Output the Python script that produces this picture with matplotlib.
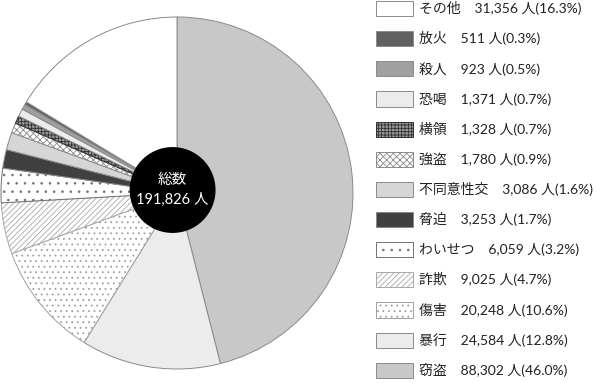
import matplotlib
matplotlib.use("Agg")
import matplotlib.pyplot as plt
from matplotlib.patches import Circle

plt.rcParams['font.family'] = ['Lato', 'Noto Sans CJK JP', 'DejaVu Sans']
plt.rcParams['hatch.linewidth'] = 0.6

# Data (clockwise from top)
categories = ['窃盗', '暴行', '傷害', '詐欺', 'わいせつ', '脅迫', '不同意性交',
              '強盗', '横領', '恐喝', '殺人', '放火', 'その他']
counts = [88302, 24584, 20248, 9025, 6059, 3253, 3086,
          1780, 1328, 1371, 923, 511, 31356]
percents = [46.0, 12.8, 10.6, 4.7, 3.2, 1.7, 1.6,
            0.9, 0.7, 0.7, 0.5, 0.3, 16.3]
total_label = '総数\n191,826 人'

faces = ['#c8c8c9', '#ececec', '#ffffff', '#ffffff', '#ffffff', '#404040', '#d6d6d6',
         '#ffffff', '#9a9a9a', '#ececec', '#a0a0a0', '#606060', '#ffffff']
hatches = [None, None, '...', '//////', '..', None, None,
           'xxxxx', '+++++', None, None, None, None]
edges = ['#8a8a8a'] * 13
edges[2] = '#a0a0a0'
edges[3] = '#a8a8a8'
edges[4] = '#707070'
edges[8] = '#303030'

fig = plt.figure(figsize=(6.0, 3.83), dpi=100)
ax = fig.add_axes([1/600, 14/383, 352/600, 352/383])
wedges, _ = ax.pie(counts, startangle=90, counterclock=False, colors=faces,
                   wedgeprops=dict(linewidth=0.7))
for w, h, e in zip(wedges, hatches, edges):
    w.set_edgecolor(e)
    if h:
        w.set_hatch(h)
ax.set_aspect('equal')
ax.set_xlim(-1.0, 1.0)
ax.set_ylim(-1.0, 1.0)

ax.add_patch(Circle((-0.025, 0.017), 0.244, facecolor='black', edgecolor='none', zorder=5))
ax.text(-0.025, 0.017, total_label, color='white', ha='center', va='center',
        fontsize=10.5, linespacing=1.45, zorder=6)

labels = [f'{c}\u3000{n:,} 人({p}%)' for c, n, p in zip(categories, counts, percents)]
order = list(range(len(categories)))[::-1]
leg = fig.legend([wedges[i] for i in order], [labels[i] for i in order],
                 loc='upper left', bbox_to_anchor=(376/600, 1 - 1/383),
                 frameon=False, fontsize=10, borderpad=0, borderaxespad=0,
                 handlelength=2.66, handleheight=1.3, handletextpad=0.45,
                 labelspacing=1.08)
for t in leg.get_texts():
    t.set_color('#222222')

fig.savefig('out.png', dpi=100)
